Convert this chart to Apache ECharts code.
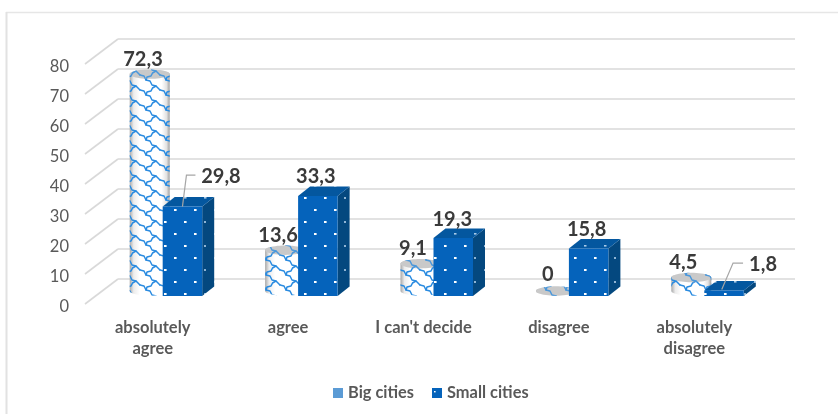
<!DOCTYPE html>
<html>
<head>
<meta charset="utf-8">
<style>html,body{margin:0;padding:0;background:#fff}#c{width:838px;height:414px}</style>
<script src="https://cdn.jsdelivr.net/npm/echarts@6/dist/echarts.min.js"></script>
</head>
<body>
<div id="c"></div>
<script>
const categories = ['absolutely\nagree', 'agree', "I can't decide", 'disagree', 'absolutely\ndisagree'];
const bigCities = [72.3, 13.6, 9.1, 0, 4.5];
const smallCities = [29.8, 33.3, 19.3, 15.8, 1.8];
const yTicks = [0, 10, 20, 30, 40, 50, 60, 70, 80];
const bigLabels = ['72,3', '13,6', '9,1', '0', '4,5'];
const smallLabels = ['29,8', '33,3', '19,3', '15,8', '1,8'];

// layout of the fake 3D projection
const DEPTH = {x: 33, y: -25};
const FLOOR = -8;
const CYL = {dx: -3, rx: 20, ry: 4.7, base: -5};
const BOX = {dx: 10, w: 39.5, sx: 12, sy: -9.5};
const bigNudge = [[-6.7, -15], [-7, -15], [-7.5, -15], [-8, -16], [-8, -14.5]];
const smallNudge = [[38.5, -30], [-2, -20], [-1, -19], [-2, -19.5], [39, -26]];
const leaders = {0: [[0, 0], [4, -31.5], [13, -31.5]], 4: [[-2.3, -1], [9, -27.5], [19, -27.5]]};
const LABEL_FONT = {fontFamily: 'Lato', fontWeight: 700, fontSize: 20, fill: '#3a3a3a'};

function tile(w, h, draw) {
  const c = document.createElement('canvas');
  c.width = w; c.height = h;
  draw(c.getContext('2d'));
  return {image: c, repeat: 'repeat'};
}
const wave = tile(20, 15, g => {
  g.strokeStyle = '#2a8be0'; g.lineWidth = 1.5; g.lineJoin = 'round'; g.lineCap = 'round';
  [[0, 0], [-20, 0], [20, 0], [0, -15], [0, 15], [-20, 15], [20, -15]].forEach(([ox, oy]) => {
    g.beginPath();
    g.moveTo(ox, oy);
    g.lineTo(ox + 4, oy + 1);
    g.lineTo(ox + 6, oy + 5);
    g.lineTo(ox + 10, oy + 6);
    g.lineTo(ox + 12, oy + 10);
    g.lineTo(ox + 16, oy + 11);
    g.lineTo(ox + 20, oy + 15);
    g.stroke();
    g.beginPath();
    g.moveTo(ox + 16, oy + 11);
    g.lineTo(ox + 12.5, oy + 13);
    g.lineTo(ox + 11, oy + 16);
    g.lineTo(ox + 7, oy + 17);
    g.lineTo(ox + 6, oy + 20);
    g.stroke();
  });
});
function dots(bg, dot, w, h) {
  return tile(20, 24, g => {
    g.fillStyle = bg; g.fillRect(0, 0, 20, 24);
    g.fillStyle = dot;
    g.fillRect(4, 5, w, h);
    g.fillRect(14, 17, w, h);
  });
}
const dotFront = dots('#0563bb', '#ffffff', 2.6, 2);
const dotTop = dots('#04579f', '#a9cbe8', 2.5, 1.6);
const dotSide = dots('#04487f', '#8fb4d4', 2, 2);
const dotLegend = tile(10, 10, g => {
  g.fillStyle = '#0563bb'; g.fillRect(0, 0, 10, 10);
  g.fillStyle = '#fff'; g.fillRect(2, 3, 1.6, 1.4);
});

function ellipsePts(cx, cy, rx, ry, from, to, n) {
  const out = [];
  for (let i = 0; i <= n; i++) {
    const a = from + (to - from) * i / n;
    out.push([cx + rx * Math.cos(a), cy + ry * Math.sin(a)]);
  }
  return out;
}
function valueText(text, x, y) {
  return {type: 'text', z2: 50, style: Object.assign({text, x, y, align: 'center', verticalAlign: 'middle'}, LABEL_FONT)};
}

function renderBig(params, api) {
  const i = api.value(0), v = api.value(1);
  const p = api.coord([i, v]), o = api.coord([i, 0]);
  const cx = p[0] + CYL.dx, topY = p[1] + FLOOR + CYL.base, botY = o[1] + FLOOR + CYL.base;
  const body = ellipsePts(cx, topY, CYL.rx, CYL.ry, Math.PI, 2 * Math.PI, 24)
    .concat(ellipsePts(cx, botY, CYL.rx, CYL.ry, 0, Math.PI, 24));
  const lid = ellipsePts(cx, topY, CYL.rx, CYL.ry, 0, 2 * Math.PI, 48);
  const shade = {type: 'linear', x: 0, y: 0, x2: 1, y2: 0, colorStops: [
    {offset: 0, color: '#a8a8a8'}, {offset: 0.1, color: '#ececec'}, {offset: 0.25, color: '#ffffff'},
    {offset: 0.8, color: '#ffffff'}, {offset: 0.92, color: '#e2e2e2'}, {offset: 1, color: '#a0a0a0'}]};
  const n = bigNudge[i];
  return {type: 'group', children: [
    {type: 'polygon', shape: {points: body}, style: {fill: shade}},
    {type: 'polygon', shape: {points: body}, style: {fill: wave}},
    {type: 'polygon', shape: {points: lid}, style: {fill: '#c9c9c9'}},
    {type: 'polygon', shape: {points: lid}, style: {fill: wave, opacity: 0.8}},
    valueText(bigLabels[i], cx + n[0], topY + n[1])
  ]};
}

function renderSmall(params, api) {
  const i = api.value(0), v = api.value(1);
  const p = api.coord([i, v]), o = api.coord([i, 0]);
  const l = p[0] + BOX.dx, r = l + BOX.w, t = p[1] + FLOOR, b = o[1] + FLOOR;
  const n = smallNudge[i], mid = (l + r) / 2;
  const children = [
    {type: 'polygon', shape: {points: [[r, t], [r + BOX.sx, t + BOX.sy], [r + BOX.sx, b + BOX.sy], [r, b]]}, style: {fill: dotSide}},
    {type: 'polygon', shape: {points: [[l, t], [l + BOX.sx, t + BOX.sy], [r + BOX.sx, t + BOX.sy], [r, t]]}, style: {fill: dotTop}},
    {type: 'rect', shape: {x: l, y: t, width: BOX.w, height: b - t}, style: {fill: dotFront}},
    valueText(smallLabels[i], mid + n[0], t + n[1])
  ];
  if (leaders[i]) {
    children.push({type: 'polyline', z2: 40,
      shape: {points: leaders[i].map(q => [mid + q[0], t + q[1]])},
      style: {fill: 'none', stroke: '#a6a6a6', lineWidth: 1.2}});
  }
  return {type: 'group', children};
}

function renderDiagonal(params, api) {
  const y = api.coord([0, api.value(0)])[1];
  const x = params.coordSys.x;
  return {type: 'line', shape: {x1: x, y1: y, x2: x + DEPTH.x, y2: y + DEPTH.y},
    style: {stroke: '#d9d9d9', lineWidth: 1.6}};
}

const chart = echarts.init(document.getElementById('c'), null, {renderer: 'canvas'});
chart.setOption({
  animation: false,
  backgroundColor: '#ffffff',
  graphic: [
    {type: 'line', shape: {x1: 6, y1: 12.5, x2: 838, y2: 12.5}, style: {stroke: '#e6e6e6', lineWidth: 1.5}},
    {type: 'line', shape: {x1: 6.5, y1: 12, x2: 6.5, y2: 414}, style: {stroke: '#e2e2e2', lineWidth: 2}}
  ],
  grid: [
    {left: 118, right: 43, top: 39, bottom: 135},
    {left: 85, right: 76, top: 64, bottom: 110}
  ],
  xAxis: [
    {type: 'category', gridIndex: 0, data: categories, axisLine: {show: false}, axisTick: {show: false}, axisLabel: {show: false}, splitLine: {show: false}},
    {type: 'category', gridIndex: 1, data: categories, axisLine: {show: false}, axisTick: {show: false}, splitLine: {show: false},
      axisLabel: {interval: 0, margin: 13, color: '#595959', fontFamily: 'Lato', fontWeight: 700, fontSize: 16.5, lineHeight: 21}}
  ],
  yAxis: [
    {type: 'value', gridIndex: 0, min: 0, max: 80, interval: 10, axisLine: {show: false}, axisTick: {show: false}, axisLabel: {show: false},
      splitLine: {show: true, lineStyle: {color: '#d9d9d9', width: 1.6}}},
    {type: 'value', gridIndex: 1, min: 0, max: 80, interval: 10, axisLine: {show: false}, axisTick: {show: false}, splitLine: {show: false},
      axisLabel: {margin: 16, color: '#595959', fontFamily: 'Lato', fontSize: 16.5, verticalAlign: 'top', lineHeight: 6}}
  ],
  legend: {
    left: 333, top: 385, padding: 0, itemWidth: 10, itemHeight: 10, itemGap: 18, icon: 'rect',
    textStyle: {color: '#595959', fontFamily: 'Lato', fontWeight: 700, fontSize: 16.4},
    data: [
      {name: 'Big cities', itemStyle: {color: '#5b9bd5'}},
      {name: 'Small cities', itemStyle: {color: dotLegend}}
    ]
  },
  series: [
    {type: 'custom', name: 'diagonals', xAxisIndex: 1, yAxisIndex: 1, z: 1, silent: true,
      encode: {y: 0}, data: yTicks.map(v => [v]), renderItem: renderDiagonal},
    {type: 'custom', name: 'Big cities', xAxisIndex: 1, yAxisIndex: 1, z: 2, silent: true,
      itemStyle: {color: '#5b9bd5'}, encode: {x: 0, y: 1},
      data: bigCities.map((v, i) => [i, v]), renderItem: renderBig},
    {type: 'custom', name: 'Small cities', xAxisIndex: 1, yAxisIndex: 1, z: 3, silent: true,
      itemStyle: {color: '#0563bb'}, encode: {x: 0, y: 1},
      data: smallCities.map((v, i) => [i, v]), renderItem: renderSmall}
  ]
});
</script>
</body>
</html>
